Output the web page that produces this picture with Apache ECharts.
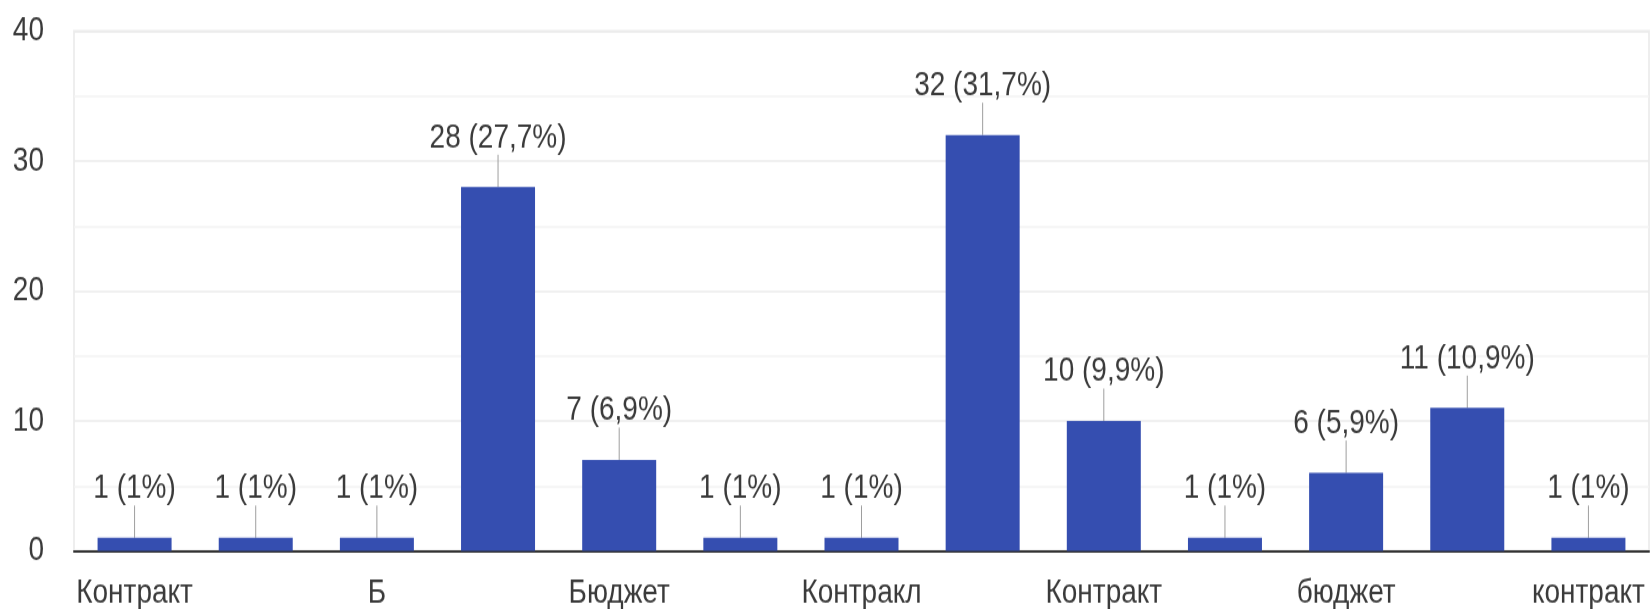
<!DOCTYPE html>
<html>
<head>
<meta charset="utf-8">
<script src="https://cdn.jsdelivr.net/npm/echarts@6/dist/echarts.min.js"></script>
<style>
  html, body { margin: 0; padding: 0; background: #fff; }
  #wrap { width: 1652px; height: 609px; position: relative; }
  /* the source picture is stretched vertically, so we stretch the chart too */
  #chart { position: absolute; left: 0; top: 0; width: 1652px; height: 500px; transform: scaleY(1.22); transform-origin: 0 0; }
</style>
</head>
<body>
<div id="wrap"><div id="chart"></div></div>
<script>
// odd categories have no visible label in the source
var categories = ['Контракт', '', 'Б', '', 'Бюджет', '', 'Контракл', '', 'Контракт', '', 'бюджет', '', 'контракт'];
var counts = [1, 1, 1, 28, 7, 1, 1, 32, 10, 1, 6, 11, 1];
var yTicks = [0, 10, 20, 30, 40];

var total = counts.reduce(function (a, b) { return a + b; }, 0);
var FONT = '"Liberation Sans", Arial, sans-serif';
var textColor = '#3a3a3a';

var chart = echarts.init(document.getElementById('chart'), null, { renderer: 'canvas' });
chart.setOption({
  animation: false,
  grid: {
    left: 74, right: 3, top: 25.5, bottom: 47.5,
    show: true, borderColor: '#eeeeee', borderWidth: 2
  },
  xAxis: {
    type: 'category',
    data: categories,
    axisTick: { show: false },
    axisLine: { lineStyle: { color: '#333', width: 2 } },
    axisLabel: {
      interval: 1,
      margin: 20.5,
      color: textColor,
      fontSize: 28,
      fontFamily: FONT
    }
  },
  yAxis: {
    type: 'value',
    min: yTicks[0],
    max: yTicks[yTicks.length - 1],
    interval: yTicks[1] - yTicks[0],
    axisLine: { show: false },
    axisTick: { show: false },
    axisLabel: { margin: 30, color: textColor, fontSize: 28, fontFamily: FONT },
    splitLine: { lineStyle: { color: '#ebebeb', width: 1.5 } },
    minorTick: { show: false, splitNumber: 2 },
    minorSplitLine: { show: true, lineStyle: { color: '#f4f4f4', width: 1.5 } }
  },
  series: [
    {
      type: 'bar',
      data: counts,
      barWidth: 74,
      itemStyle: { color: '#354eb0' },
      silent: true
    },
    {
      // value labels with a short leader line
      type: 'custom',
      silent: true,
      data: counts.map(function (v, i) { return [i, v]; }),
      renderItem: function (params, api) {
        var p = api.coord([api.value(0), api.value(1)]);
        var v = api.value(1);
        var pct = Math.round(v / total * 1000) / 10;
        var txt = v + ' (' + String(pct).replace('.', ',') + '%)';
        return {
          type: 'group',
          children: [
            {
              type: 'line',
              shape: { x1: p[0], y1: p[1], x2: p[0], y2: p[1] - 26.5 },
              style: { stroke: '#9e9e9e', lineWidth: 1 }
            },
            {
              type: 'text',
              x: p[0],
              y: p[1] - 40.5,
              style: {
                text: txt,
                align: 'center',
                verticalAlign: 'middle',
                fill: textColor,
                fontSize: 28,
                fontFamily: FONT
              }
            }
          ]
        };
      }
    }
  ]
});
</script>
</body>
</html>
